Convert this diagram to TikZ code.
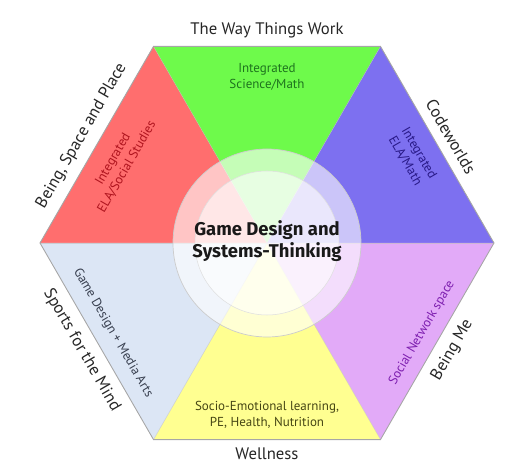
\documentclass[tikz,border=0pt]{standalone}
\usepackage{fontspec}
\setmainfont{PT Sans}
\newfontfamily\hubfont{Fira Sans}
\usetikzlibrary{positioning}

\definecolor{redface}{RGB}{255,110,110}
\definecolor{greenface}{RGB}{110,250,75}
\definecolor{blueface}{RGB}{125,112,240}
\definecolor{purpleface}{RGB}{226,170,248}
\definecolor{yellowface}{RGB}{255,255,145}
\definecolor{paleface}{RGB}{220,230,245}
\definecolor{redtext}{RGB}{175,20,30}
\definecolor{greentext}{RGB}{30,115,30}
\definecolor{bluetext}{RGB}{40,25,135}
\definecolor{paletext}{RGB}{55,62,78}
\definecolor{purpletext}{RGB}{125,30,175}
\definecolor{yellowtext}{RGB}{70,70,20}

\tikzset{
  edge/.style={draw=gray!70, line width=0.5pt},
  spoke/.style={draw=gray!50, line width=0.3pt, opacity=0.6},
  outer/.style={font=\fontsize{9.5}{11}\selectfont, text=black!85},
  inner/.style={font=\fontsize{7.4}{9}\selectfont, align=center},
  hub/.style={font=\hubfont\bfseries\fontsize{10.5}{13}\selectfont, align=center, text=black!90}
}

\begin{document}
\begin{tikzpicture}
\useasboundingbox (-5.34,-4.56) rectangle (4.76,4.86);
\coordinate (c) at (0,0);
\foreach \a/\n in {0/r,60/tr,120/tl,180/l,240/bl,300/br}
  \coordinate (\n) at (\a:4.54);
% six faces
\fill[redface] (c) -- (l) -- (tl) -- cycle;
\fill[greenface] (c) -- (tl) -- (tr) -- cycle;
\fill[blueface] (c) -- (tr) -- (r) -- cycle;
\fill[purpleface] (c) -- (r) -- (br) -- cycle;
\fill[yellowface] (c) -- (br) -- (bl) -- cycle;
\fill[paleface] (c) -- (bl) -- (l) -- cycle;
\draw[spoke] (l) -- (r);
\draw[spoke] (tl) -- (br);
\draw[spoke] (tr) -- (bl);
\draw[edge] (r) -- (tr) -- (tl) -- (l) -- (bl) -- (br) -- cycle;
% hub
\fill[white, opacity=0.6] (c) circle (1.88);
\fill[white, opacity=0.6] (c) circle (1.44);
\draw[gray!40, line width=0.4pt] (c) circle (1.88);
\draw[gray!25, line width=0.3pt] (c) circle (1.44);
\node[hub] (core) at (0,0.04) {Game Design and\\Systems-Thinking};
% outside labels
\path (tl) -- (tr) node[midway, above=1pt, outer] (work) {The Way Things Work};
\path (l) -- (tl) node[midway, sloped, above=2pt, outer] (place) {Being, Space and Place};
\path (tr) -- (r) node[midway, sloped, above=2pt, outer] (code) {Codeworlds};
\path (l) -- (bl) node[midway, sloped, below=2pt, outer] (sports) {Sports for the Mind};
\path (br) -- (r) node[midway, sloped, below=2pt, outer] (me) {Being Me};
\path (bl) -- (br) node[midway, below=1pt, outer] (well) {Wellness};
% inside labels
\node[inner, text=greentext] (sci) at (0,3.32) {Integrated\\Science/Math};
\node[inner, text=redtext, rotate=60] (ela) at (-2.94,1.6) {Integrated\\ELA/Social Studies};
\node[inner, text=bluetext, rotate=-60] (elam) at (2.9,1.72) {Integrated\\ELA/Math};
\node[inner, text=paletext, rotate=-60] (media) at (-3.08,-1.8) {Game Design + Media Arts};
\node[inner, text=purpletext, rotate=60] (social) at (3.1,-1.8) {Social Network space};
\node[inner, text=yellowtext] (socio) at (0,-3.44) {Socio-Emotional learning,\\PE, Health, Nutrition};
\end{tikzpicture}
\end{document}
